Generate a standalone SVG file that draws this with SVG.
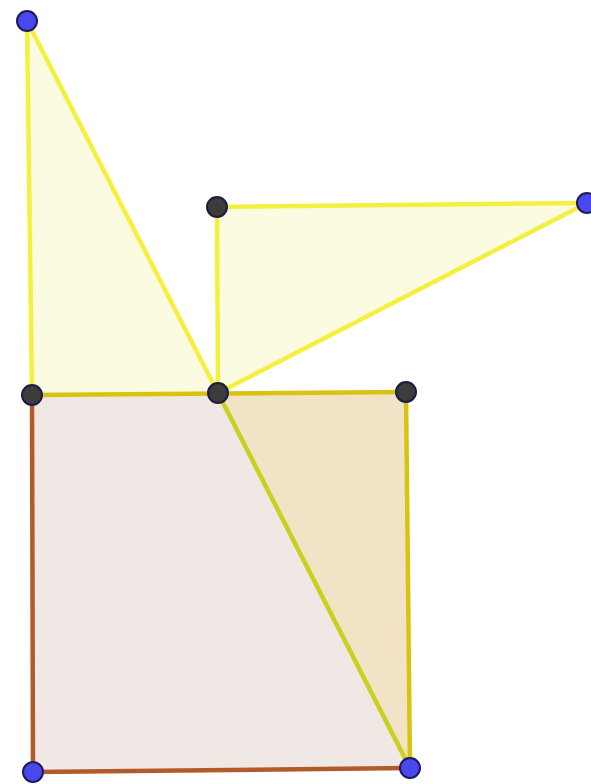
<svg xmlns="http://www.w3.org/2000/svg" width="591" height="784" viewBox="0 0 591 784">
<style>
.dark{fill:#3c3c3c;stroke:#1c1c44;stroke-width:2}
.blue{fill:#4848ec;stroke:#1c1c5a;stroke-width:2}
.edge{fill:none;stroke-width:4.5;stroke-linecap:round}
</style>
<rect width="591" height="784" fill="#ffffff"/>
<g id="shapes">
<polygon id="tri1" points="27,21 32,395 218,393" fill="#fbfbe1"/>
<polygon id="tri2" points="217,207 587,203 218,393" fill="#fbfbe1"/>
<polygon id="square" points="32,395 406,392 410,768 33,772" fill="#f0e8e4"/>
<polygon id="tri3" points="218,393 406,392 410,768" fill="#f2e2c6"/>
</g>
<g id="connectors">
<line class="edge" x1="27" y1="21" x2="32" y2="395" stroke="#f5f040"/>
<line class="edge" x1="27" y1="21" x2="218" y2="393" stroke="#f5f040"/>
<line class="edge" x1="217" y1="207" x2="587" y2="203" stroke="#f5f040"/>
<line class="edge" x1="217" y1="207" x2="218" y2="393" stroke="#f5f040"/>
<line class="edge" x1="587" y1="203" x2="218" y2="393" stroke="#f5f040"/>
<line class="edge" x1="32" y1="395" x2="406" y2="392" stroke="#d8c410"/>
<line class="edge" x1="406" y1="392" x2="410" y2="768" stroke="#d8c410"/>
<line class="edge" x1="218" y1="393" x2="410" y2="768" stroke="#c8d020"/>
<line class="edge" x1="32" y1="395" x2="33" y2="772" stroke="#b35a2a"/>
<line class="edge" x1="33" y1="772" x2="410" y2="768" stroke="#b35a2a"/>
</g>
<g id="A"><circle class="blue" cx="27" cy="21" r="10"/></g>
<g id="B"><circle class="dark" cx="217" cy="207" r="10"/></g>
<g id="C"><circle class="blue" cx="587" cy="203" r="10"/></g>
<g id="D"><circle class="dark" cx="32" cy="395" r="10"/></g>
<g id="E"><circle class="dark" cx="218" cy="393" r="10"/></g>
<g id="F"><circle class="dark" cx="406" cy="392" r="10"/></g>
<g id="G"><circle class="blue" cx="33" cy="772" r="10"/></g>
<g id="H"><circle class="blue" cx="410" cy="768" r="10"/></g>
</svg>
